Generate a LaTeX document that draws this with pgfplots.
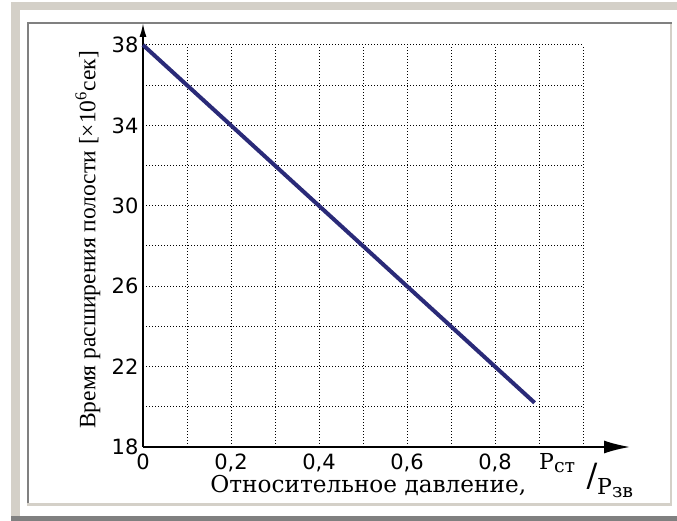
\documentclass[border=0pt]{standalone}
\usepackage{pgfplots}
\pgfplotsset{compat=1.18}
\usepackage{fontspec}
\setmainfont{Liberation Serif}
\newfontfamily\tickfont{DejaVu Sans}
\newfontfamily\wideserif{DejaVu Serif}
\usetikzlibrary{arrows.meta}
\definecolor{bevel}{RGB}{212,208,200}
\definecolor{framegray}{RGB}{128,128,128}
\definecolor{navy}{RGB}{42,42,120}
\begin{document}
\begin{tikzpicture}[x=1pt,y=1pt]
\useasboundingbox (0,0) rectangle (677,521);
\fill[white] (0,0) rectangle (677,521);
\fill[bevel] (11,511) rectangle (677,519);
\fill[bevel] (11,4) rectangle (20,519);
\fill[framegray] (11,0) rectangle (677,5);
\fill[framegray] (27,497) rectangle (672,499);
\fill[framegray] (27,15) rectangle (29,499);
\fill[bevel] (27,15) rectangle (672,18);
\fill[bevel] (670,15) rectangle (672,497);
\begin{axis}[
  at={(143pt,74pt)}, anchor=south west, scale only axis,
  width=440pt, height=402pt,
  xmin=0, xmax=1, ymin=18, ymax=38,
  clip=false,
  axis lines=left,
  axis line style={line width=1.8pt, black},
  x axis line style={-{Latex[length=26pt,width=13pt]}, shorten >=-47pt},
  y axis line style={-{Latex[length=14pt,width=7pt]}, shorten >=-22pt},
  xtick={0,0.1,...,1.0},
  xticklabels={0,,{0,2},,{0,4},,{0,6},,{0,8},,},
  ytick={18,20,...,38},
  yticklabels={18,,22,,26,,30,,34,,38},
  major tick length=0pt,
  grid=major,
  grid style={black, line width=1pt, dash pattern=on 1pt off 2pt},
  tick label style={font=\tickfont\fontsize{21}{24}\selectfont},
  xticklabel style={anchor=north, yshift=-3pt},
  yticklabel style={anchor=east, xshift=-1pt},
  xlabel={Относительное давление,},
  xlabel style={at={(axis description cs:0.512,-0.097)}, anchor=center, font=\wideserif\fontsize{23.2}{26}\selectfont},
  ylabel={Время расширения полости [×10\textsuperscript{6}сек]},
  ylabel style={at={(axis description cs:-0.125,0.515)}, anchor=center, font=\fontsize{23.5}{26}\selectfont},
]
\addplot[navy, line width=4pt] coordinates {(0,38) (0.89,20.2)};
\end{axis}
\node[anchor=base west, inner sep=0pt, font=\wideserif\fontsize{22}{24}\selectfont] at (539,51) {P\raisebox{-0.25ex}{\fontsize{19}{19}\selectfont ст}};
\node[anchor=center, inner sep=0pt, font=\wideserif\fontsize{32}{34}\selectfont] at (592,45) {/};
\node[anchor=base west, inner sep=0pt, font=\wideserif\fontsize{22}{24}\selectfont] at (597,26) {P\raisebox{-0.25ex}{\fontsize{19}{19}\selectfont зв}};
\end{tikzpicture}
\end{document}
